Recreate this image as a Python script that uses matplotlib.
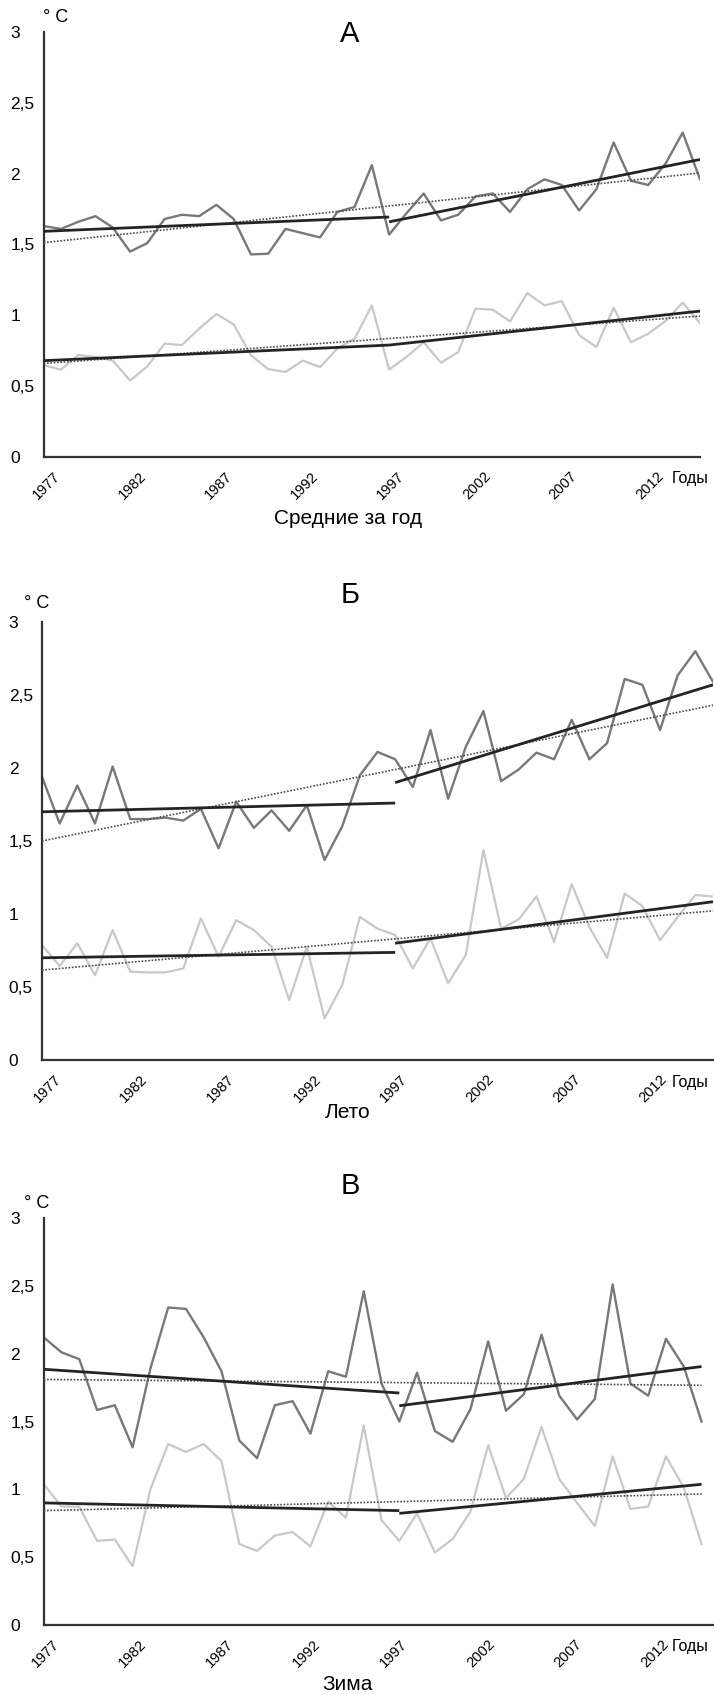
import numpy as np
import matplotlib
matplotlib.use("Agg")
import matplotlib.pyplot as plt
from matplotlib.transforms import ScaledTranslation

plt.rcParams['font.family'] = ['Liberation Sans Narrow', 'Liberation Sans', 'DejaVu Sans']

# --- data ---
years_a = np.arange(1977, 2016)
years_b = np.arange(1977, 2016)
years_c = np.arange(1977, 2015)

a_dark = [1.63, 1.61, 1.66, 1.70, 1.62, 1.45, 1.51, 1.68, 1.71, 1.70,
          1.78, 1.68, 1.43, 1.435, 1.61, 1.58, 1.55, 1.73, 1.765, 2.06,
          1.57, 1.72, 1.86, 1.67, 1.71, 1.84, 1.86, 1.73, 1.89, 1.96,
          1.92, 1.74, 1.89, 2.22, 1.95, 1.92, 2.07, 2.29, 1.96]
a_light = [0.647, 0.617, 0.72, 0.706, 0.68, 0.54, 0.64, 0.80, 0.79, 0.906,
           1.01, 0.936, 0.718, 0.62, 0.60, 0.68, 0.635, 0.765, 0.835, 1.07,
           0.617, 0.706, 0.81, 0.666, 0.74, 1.047, 1.04, 0.957, 1.157, 1.07,
           1.10, 0.86, 0.776, 1.054, 0.81, 0.87, 0.96, 1.09, 0.946]

b_dark = [1.94, 1.62, 1.88, 1.62, 2.01, 1.65, 1.65, 1.66, 1.64, 1.72,
          1.45, 1.77, 1.59, 1.71, 1.57, 1.745, 1.37, 1.60, 1.95, 2.11,
          2.06, 1.87, 2.26, 1.79, 2.145, 2.39, 1.91, 1.99, 2.105, 2.06,
          2.33, 2.06, 2.17, 2.61, 2.57, 2.26, 2.635, 2.80, 2.59]
b_light = [0.787, 0.643, 0.80, 0.58, 0.89, 0.605, 0.60, 0.60, 0.627, 0.97,
           0.707, 0.958, 0.89, 0.776, 0.41, 0.776, 0.285, 0.513, 0.98, 0.90,
           0.856, 0.627, 0.833, 0.525, 0.72, 1.437, 0.90, 0.963, 1.12, 0.81,
           1.205, 0.91, 0.70, 1.14, 1.054, 0.82, 0.98, 1.13, 1.12]

c_dark = [2.12, 2.01, 1.96, 1.585, 1.62, 1.31, 1.89, 2.34, 2.33, 2.12,
          1.87, 1.36, 1.23, 1.62, 1.65, 1.41, 1.87, 1.83, 2.46, 1.78,
          1.50, 1.86, 1.43, 1.35, 1.59, 2.09, 1.58, 1.70, 2.14, 1.69,
          1.515, 1.666, 2.51, 1.78, 1.69, 2.11, 1.905, 1.50]
c_light = [1.037, 0.873, 0.873, 0.62, 0.63, 0.433, 1.0, 1.334, 1.276, 1.334,
           1.208, 0.597, 0.546, 0.66, 0.685, 0.58, 0.91, 0.79, 1.47, 0.773,
           0.62, 0.823, 0.534, 0.634, 0.836, 1.326, 0.936, 1.075, 1.46, 1.075,
           0.90, 0.73, 1.243, 0.856, 0.873, 1.243, 1.012, 0.597]

# trend lines: (value at start, value at end)
a_dark_tr1, a_dark_tr2, a_dark_all = (1.593, 1.694), (1.66, 2.10), (1.513, 2.005)
a_light_tr1, a_light_tr2, a_light_all = (0.68, 0.79), (0.79, 1.03), (0.66, 0.995)
b_dark_tr1, b_dark_tr2, b_dark_all = (1.70, 1.76), (1.90, 2.57), (1.50, 2.43)
b_light_tr1, b_light_tr2, b_light_all = (0.70, 0.737), (0.80, 1.084), (0.616, 1.022)
c_dark_tr1, c_dark_tr2, c_dark_all = (1.885, 1.71), (1.616, 1.905), (1.81, 1.767)
c_light_tr1, c_light_tr2, c_light_all = (0.90, 0.843), (0.823, 1.037), (0.843, 0.966)

break_year = 1997
xticks = [1977, 1982, 1987, 1992, 1997, 2002, 2007, 2012]
yticks = [0, 0.5, 1, 1.5, 2, 2.5, 3]
ytick_labels = ['0', '0,5', '1', '1,5', '2', '2,5', '3']

W, H = 714, 1695
fig = plt.figure(figsize=(W / 100, H / 100), dpi=100)


def px(x0, y0, x1, y1):
    return [x0 / W, 1 - y1 / H, (x1 - x0) / W, (y1 - y0) / H]


def panel(rect, years, dark, light, trends, xmax, title, title_y, deg_xy,
          xlabel, xlabel_y, gody_y, lab_off):
    ax = fig.add_axes(rect)
    ax.plot(years, dark, color='#787878', lw=1.7, zorder=2)
    ax.plot(years, light, color='#c8c8c8', lw=1.6, zorder=1)
    x0, x1 = years[0], years[-1]
    for tr1, tr2, tall in trends:
        ax.plot([x0, break_year], tr1, color='#242424', lw=2.0, zorder=4,
                solid_capstyle='butt')
        ax.plot([break_year, x1], tr2, color='#242424', lw=2.0, zorder=4,
                solid_capstyle='butt')
        ax.plot([x0, x1], tall, color='#4a4a4a', lw=1.2, ls=(0, (1, 1)),
                zorder=3)
    ax.set_xlim(1977, xmax)
    ax.set_ylim(0, 3)
    for s in ['top', 'right']:
        ax.spines[s].set_visible(False)
    for s in ['left', 'bottom']:
        ax.spines[s].set_color('#333333')
        ax.spines[s].set_linewidth(1.6)
    ax.set_yticks(yticks)
    ax.set_yticklabels(ytick_labels, fontsize=12.5, ha='left')
    ax.tick_params(axis='y', length=0, pad=24)
    ax.set_xticks(xticks)
    ax.set_xticklabels([str(y) for y in xticks], fontsize=10.5, rotation=45,
                       ha='right', va='top', rotation_mode='anchor',
                       family=['Liberation Sans', 'DejaVu Sans'])
    ax.tick_params(axis='x', length=0, pad=9)
    for k, lab in enumerate(ax.get_xticklabels()):
        dx = lab_off[0] + (lab_off[1] - lab_off[0]) * k / (len(xticks) - 1)
        lab.set_transform(lab.get_transform() +
                          ScaledTranslation(dx / 100, 0, fig.dpi_scale_trans))
    fig.text(350 / W, 1 - title_y / H, title, fontsize=21, ha='center',
             va='center', family=['Liberation Sans', 'DejaVu Sans'])
    fig.text(deg_xy[0] / W, 1 - deg_xy[1] / H, '° C', fontsize=13,
             ha='left', va='center', family=['Liberation Sans', 'DejaVu Sans'])
    fig.text(348 / W, 1 - xlabel_y / H, xlabel, fontsize=15, ha='center',
             va='center')
    fig.text(672 / W, 1 - gody_y / H, 'Годы', fontsize=11.5, ha='left',
             va='center')
    return ax


panel(px(43.7, 32, 700, 457), years_a, a_dark, a_light,
      [(a_dark_tr1, a_dark_tr2, a_dark_all),
       (a_light_tr1, a_light_tr2, a_light_all)],
      2015, 'А', 34, (43, 18), 'Средние за год', 518, 478, (9, 8))

panel(px(42, 622, 713, 1060), years_b, b_dark, b_light,
      [(b_dark_tr1, b_dark_tr2, b_dark_all),
       (b_light_tr1, b_light_tr2, b_light_all)],
      2015, 'Б', 595, (24, 603), 'Лето', 1112, 1083, (12, 0))

panel(px(43.7, 1218, 714, 1625), years_c, c_dark, c_light,
      [(c_dark_tr1, c_dark_tr2, c_dark_all),
       (c_light_tr1, c_light_tr2, c_light_all)],
      2014.7, 'В', 1186, (24, 1204), 'Зима', 1685, 1647, (8, -4))

fig.savefig('out.png', dpi=100)
